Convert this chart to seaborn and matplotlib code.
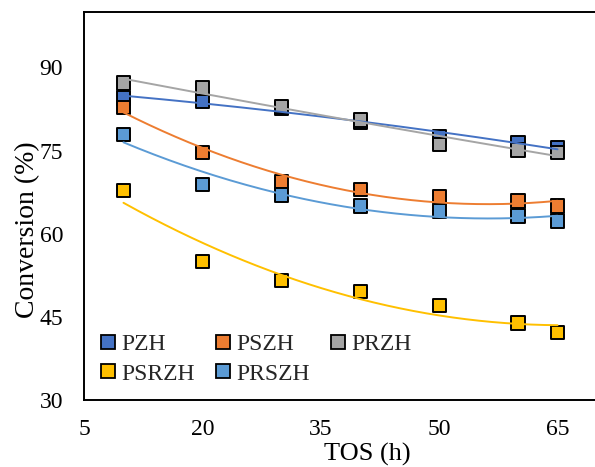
import numpy as np
import pandas as pd
import matplotlib
matplotlib.use('Agg')
import matplotlib.pyplot as plt
from matplotlib.lines import Line2D
import seaborn as sns

# Conversion vs time on stream
tos_h = [10, 20, 30, 40, 50, 60, 65]
pzh = [84.5, 83.9, 82.6, 80.1, 77.5, 76.5, 75.5]
pszh = [82.7, 74.7, 69.4, 68.0, 66.7, 65.9, 65.0]
przh = [87.2, 86.3, 83.0, 80.5, 76.1, 75.1, 74.7]
psrzh = [67.8, 55.0, 51.6, 49.6, 47.1, 43.9, 42.2]
prszh = [77.9, 68.9, 67.0, 65.0, 64.1, 63.2, 62.3]

catalysts = ['PZH', 'PSZH', 'PRZH', 'PSRZH', 'PRSZH']
colors = ['#4472C4', '#ED7D31', '#A5A5A5', '#FFC000', '#5B9BD5']
x_ticks = [5, 20, 35, 50, 65]
y_ticks = [30, 45, 60, 75, 90]

series = dict(zip(catalysts, [pzh, pszh, przh, psrzh, prszh]))
palette = dict(zip(catalysts, colors))

df = pd.DataFrame([
    {'TOS': t, 'Conversion': v, 'Catalyst': name}
    for name, vals in series.items() for t, v in zip(tos_h, vals)
])

# second-order polynomial trendlines (like the Excel ones)
x_fit = np.linspace(min(tos_h), max(tos_h), 200)
fit_rows = []
for name, vals in series.items():
    coef = np.polyfit(tos_h, vals, 2)
    for t, v in zip(x_fit, np.polyval(coef, x_fit)):
        fit_rows.append({'TOS': t, 'Conversion': v, 'Catalyst': name})
fit_df = pd.DataFrame(fit_rows)

sns.set_theme(style='white')
plt.rcParams['font.family'] = ['Liberation Serif', 'DejaVu Serif']

fig = plt.figure(figsize=(5.95, 4.67), dpi=100)
ax = fig.add_axes([84 / 595, 67 / 467, 513 / 595, 388 / 467])

sns.scatterplot(data=df, x='TOS', y='Conversion', hue='Catalyst', palette=palette,
                marker='s', s=90, edgecolor='black', linewidth=1.4, legend=False,
                zorder=2, ax=ax)
sns.lineplot(data=fit_df, x='TOS', y='Conversion', hue='Catalyst', palette=palette,
             linewidth=1.4, legend=False, zorder=3, ax=ax)

ax.set_xlim(5, 70)
ax.set_ylim(30, 100)
ax.set_xticks(x_ticks)
ax.set_yticks(y_ticks)
ax.tick_params(direction='in', length=5.5, width=1.3, labelsize=17, colors='black')
ax.tick_params(axis='x', pad=14)
ax.tick_params(axis='y', pad=15)
for side in ['left', 'bottom', 'top', 'right']:
    ax.spines[side].set_color('black')
    ax.spines[side].set_linewidth(1.4)

ax.set_xlabel('TOS (h)', fontsize=19, color='black')
ax.set_ylabel('Conversion (%)', fontsize=20, color='black')
ax.xaxis.set_label_coords(0.552, -0.111)
ax.yaxis.set_label_coords(-0.085, 0.438)

# legend laid out row-wise: PZH PSZH PRZH / PSRZH PRSZH
handles = {name: Line2D([], [], marker='s', linestyle='', markersize=9.5,
                        markerfacecolor=palette[name], markeredgecolor='black',
                        markeredgewidth=1.3)
           for name in catalysts}
order = ['PZH', 'PSRZH', 'PSZH', 'PRSZH', 'PRZH']
ax.legend([handles[n] for n in order], order, ncol=3, loc='lower left',
          bbox_to_anchor=(0.0, 0.0), frameon=False, fontsize=17,
          handlelength=0.75, handletextpad=0.2, columnspacing=0.8,
          labelspacing=0.35, borderaxespad=0.25)

fig.savefig('out.png', dpi=100)
